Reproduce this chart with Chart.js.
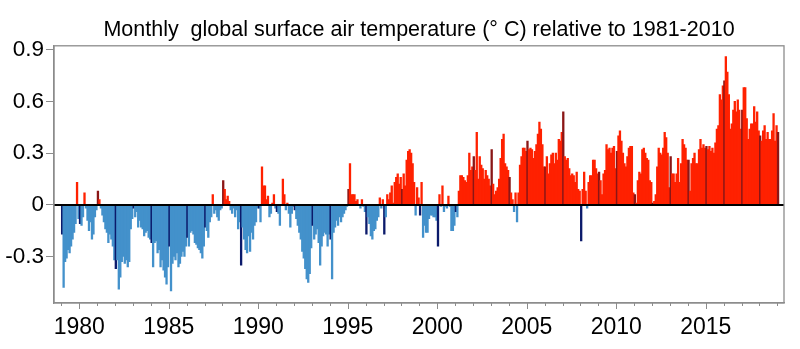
<!DOCTYPE html>
<html>
<head>
<meta charset="utf-8">
<script src="https://cdn.jsdelivr.net/npm/chart.js@4/dist/chart.umd.min.js"></script>
<style>
  html, body { margin: 0; padding: 0; background: #fff; }
</style>
</head>
<body>
<canvas id="myChart" width="800" height="349"></canvas>
<script>
// monthly anomalies (°C), Jan 1979 .. Jan 2019, one row per year
const startYear = 1979;
const anomaly = [
  -0.17,-0.48,-0.33,-0.31,-0.26,-0.28,-0.24,-0.20,-0.16,-0.11, 0.13,-0.08, // 1979
  -0.11,-0.12,-0.07, 0.07,-0.02,-0.09,-0.15,-0.10,-0.20,-0.17,-0.07,-0.03, // 1980
   0.08, 0.03,-0.02,-0.06,-0.10,-0.14,-0.16,-0.22,-0.17,-0.20,-0.24,-0.32, // 1981
  -0.37,-0.32,-0.49,-0.42,-0.33,-0.30,-0.34,-0.32,-0.36,-0.33,-0.14,-0.08, // 1982
  -0.02,-0.07,-0.04,-0.13,-0.09,-0.13,-0.14,-0.18,-0.16,-0.15,-0.19,-0.20, // 1983
  -0.22,-0.36,-0.22,-0.21,-0.28,-0.26,-0.36,-0.32,-0.38,-0.42,-0.46,-0.36, // 1984
  -0.24,-0.50,-0.34,-0.30,-0.32,-0.28,-0.36,-0.34,-0.30,-0.27,-0.30,-0.24, // 1985
  -0.19,-0.24,-0.16,-0.15,-0.17,-0.22,-0.23,-0.25,-0.26,-0.28,-0.31,-0.24, // 1986
  -0.13,-0.15,-0.19,-0.10,-0.07, 0.06,-0.05,-0.03,-0.07,-0.09,-0.03,-0.02, // 1987
   0.14, 0.09, 0.03, 0.05, 0.02,-0.03,-0.05,-0.02,-0.07,-0.03,-0.14,-0.10, // 1988
  -0.35,-0.13,-0.20,-0.26,-0.28,-0.18,-0.27,-0.16,-0.20,-0.12,-0.10,-0.02, // 1989
  -0.02,-0.10, 0.22, 0.11, 0.11, 0.03, 0.05,-0.07,-0.05, 0.01, 0.06,-0.02, // 1990
  -0.04,-0.05,-0.12, 0.00, 0.15, 0.06,-0.03, 0.01,-0.05,-0.13,-0.05,-0.01, // 1991
  -0.03,-0.08,-0.12,-0.16,-0.20,-0.27,-0.31,-0.37,-0.43,-0.45,-0.40,-0.25, // 1992
  -0.12,-0.20,-0.17,-0.14,-0.22,-0.35,-0.24,-0.18,-0.16,-0.17,-0.24,-0.17, // 1993
  -0.20,-0.43,-0.16,-0.13,-0.09,-0.12,-0.07,-0.10,-0.07,-0.05,-0.03,-0.01, // 1994
   0.09, 0.24, 0.06, 0.06, 0.06, 0.02, 0.03, 0.00,-0.02, 0.03,-0.01,-0.04, // 1995
  -0.17,-0.07,-0.11,-0.18,-0.20,-0.15,-0.14,-0.09,-0.07, 0.04,-0.02, 0.03, // 1996
  -0.17,-0.07, 0.06, 0.03, 0.07, 0.11, 0.01, 0.13, 0.16, 0.18, 0.12, 0.16, // 1997
   0.09, 0.18, 0.11, 0.26, 0.31, 0.32, 0.30, 0.24, 0.13,-0.06, 0.10, 0.04, // 1998
  -0.06, 0.13,-0.19,-0.12,-0.16,-0.16,-0.08,-0.06,-0.06,-0.07,-0.07,-0.09, // 1999
  -0.24, 0.06,-0.01, 0.11,-0.04,-0.01,-0.02, 0.05,-0.01,-0.15,-0.15,-0.12, // 2000
  -0.04,-0.07, 0.08, 0.17, 0.17, 0.16, 0.14, 0.13, 0.17, 0.30, 0.20, 0.22, // 2001
   0.28, 0.20, 0.42, 0.15, 0.28, 0.23, 0.21, 0.15, 0.20, 0.17, 0.15, 0.11, // 2002
   0.32, 0.12, 0.06, 0.08, 0.10, 0.15, 0.27, 0.38, 0.41, 0.24, 0.22, 0.20, // 2003
   0.16, 0.07, 0.03,-0.04, 0.07,-0.10, 0.07, 0.23, 0.28, 0.33, 0.33, 0.31, // 2004
   0.37, 0.32, 0.33, 0.32, 0.27, 0.31, 0.35, 0.41, 0.48, 0.44, 0.35, 0.22, // 2005
   0.22, 0.28, 0.18, 0.24, 0.29, 0.30, 0.24, 0.30, 0.26, 0.38, 0.37, 0.42, // 2006
   0.54, 0.28, 0.26, 0.27, 0.21, 0.17, 0.18, 0.17, 0.13, 0.19, 0.09, 0.08, // 2007
  -0.21, 0.09, 0.19, 0.08,-0.02, 0.13, 0.17, 0.17, 0.26, 0.26, 0.21, 0.18, // 2008
   0.19, 0.14, 0.06, 0.18, 0.20, 0.35, 0.32, 0.33, 0.30, 0.33, 0.34, 0.21, // 2009
   0.31, 0.40, 0.43, 0.37, 0.30, 0.24, 0.22, 0.28, 0.33, 0.34, 0.34, 0.07, // 2010
   0.06, 0.01, 0.14, 0.19, 0.18, 0.32, 0.33, 0.30, 0.27, 0.26, 0.14, 0.13, // 2011
   0.01, 0.02, 0.06, 0.22, 0.33, 0.30, 0.29, 0.33, 0.42, 0.39, 0.30, 0.10, // 2012
   0.28, 0.18, 0.18, 0.13, 0.18, 0.27, 0.13, 0.24, 0.38, 0.35, 0.33, 0.26, // 2013
   0.26, 0.08, 0.24, 0.27, 0.30, 0.24, 0.24, 0.32, 0.38, 0.33, 0.35, 0.33, // 2014
   0.34, 0.32, 0.34, 0.31, 0.33, 0.30, 0.36, 0.44, 0.46, 0.64, 0.61, 0.69, // 2015
   0.72, 0.86, 0.77, 0.64, 0.44, 0.47, 0.55, 0.60, 0.54, 0.61, 0.55, 0.44, // 2016
   0.55, 0.68, 0.68, 0.50, 0.38, 0.44, 0.47, 0.47, 0.57, 0.48, 0.54, 0.43, // 2017
   0.40, 0.37, 0.43, 0.46, 0.38, 0.42, 0.38, 0.38, 0.43, 0.53, 0.37, 0.46, // 2018
   0.42                                                                     // 2019
];
const xTickLabels = ['1980', '1985', '1990', '1995', '2000', '2005', '2010', '2015'];
const yTickValues = [-0.3, 0, 0.3, 0.6, 0.9];

const points = anomaly.map((v, i) => ({ x: startYear + i / 12 + 1 / 24, y: v }));
const barColor = (ctx) => {
    const i = ctx.dataIndex, v = anomaly[i];
    if (i % 12 === 0) return v >= 0 ? '#8a1616' : '#0b1a6b';   // January bars
    return v >= 0 ? '#ff2100' : '#4391cb';
};

// year ticks (long every 5 years), frame and zero line
const decorations = {
    id: 'decorations',
    afterDatasetsDraw(chart) {
        const { ctx, chartArea: a, scales: { x, y } } = chart;
        ctx.save();
        ctx.strokeStyle = '#000';
        ctx.lineWidth = 2;
        const y0 = Math.round(y.getPixelForValue(0));
        ctx.beginPath(); ctx.moveTo(a.left, y0); ctx.lineTo(a.right, y0); ctx.stroke();
        ctx.strokeStyle = '#8c8c8c';
        ctx.lineWidth = 1.3;
        ctx.strokeRect(a.left, a.top, a.right - a.left, a.bottom - a.top);
        ctx.lineWidth = 1;
        for (let yr = startYear; yr <= 2019; yr++) {
            const px = Math.round(x.getPixelForValue(yr)) + 0.5;
            const len = yr % 5 === 0 ? 6 : 3;
            ctx.beginPath(); ctx.moveTo(px, a.bottom); ctx.lineTo(px, a.bottom + len); ctx.stroke();
        }
        ctx.restore();
    }
};

Chart.defaults.font.family = '"Liberation Sans", Arial, Helvetica, sans-serif';
Chart.defaults.color = '#000';

var ctx = document.getElementById('myChart').getContext('2d');
var myChart = new Chart(ctx, {
    type: 'bar',
    data: {
        datasets: [{
            data: points,
            backgroundColor: barColor,
            borderWidth: 0,
            barThickness: 1.65
        }]
    },
    options: {
        responsive: false,
        animation: false,
        layout: { padding: { left: 0, right: 16, top: 0, bottom: 0 } },
        plugins: {
            legend: { display: false },
            tooltip: { enabled: false },
            title: {
                display: true,
                fullSize: false,
                text: 'Monthly  global surface air temperature (° C) relative to 1981-2010',
                font: { size: 21.5, weight: 'normal' },
                padding: { top: 17, bottom: 3 }
            }
        },
        scales: {
            x: {
                type: 'linear',
                min: 1978.587,
                max: 2019.374,
                offset: false,
                afterBuildTicks: (s) => { s.ticks = xTickLabels.map(t => ({ value: +t })); },
                afterFit: (s) => { s.height = 46; },
                ticks: { callback: (v) => String(v), font: { size: 23 }, padding: 5, maxRotation: 0, autoSkip: false },
                grid: { display: true, drawOnChartArea: false, tickLength: 6, tickColor: 'rgba(0,0,0,0)' },
                border: { color: '#8c8c8c', width: 1.3 }
            },
            y: {
                min: -0.570,
                max: 0.923,
                afterBuildTicks: (s) => { s.ticks = yTickValues.map(v => ({ value: v })); },
                afterFit: (s) => { s.width = 54; },
                ticks: { callback: (v) => (Math.abs(v) < 1e-9 ? '0' : v.toFixed(1)), font: { size: 22.5 }, padding: 2 },
                grid: { display: true, drawOnChartArea: false, tickLength: 8, tickColor: '#8c8c8c' },
                border: { color: '#8c8c8c', width: 1.3 }
            }
        }
    },
    plugins: [decorations]
});
</script>
</body>
</html>
